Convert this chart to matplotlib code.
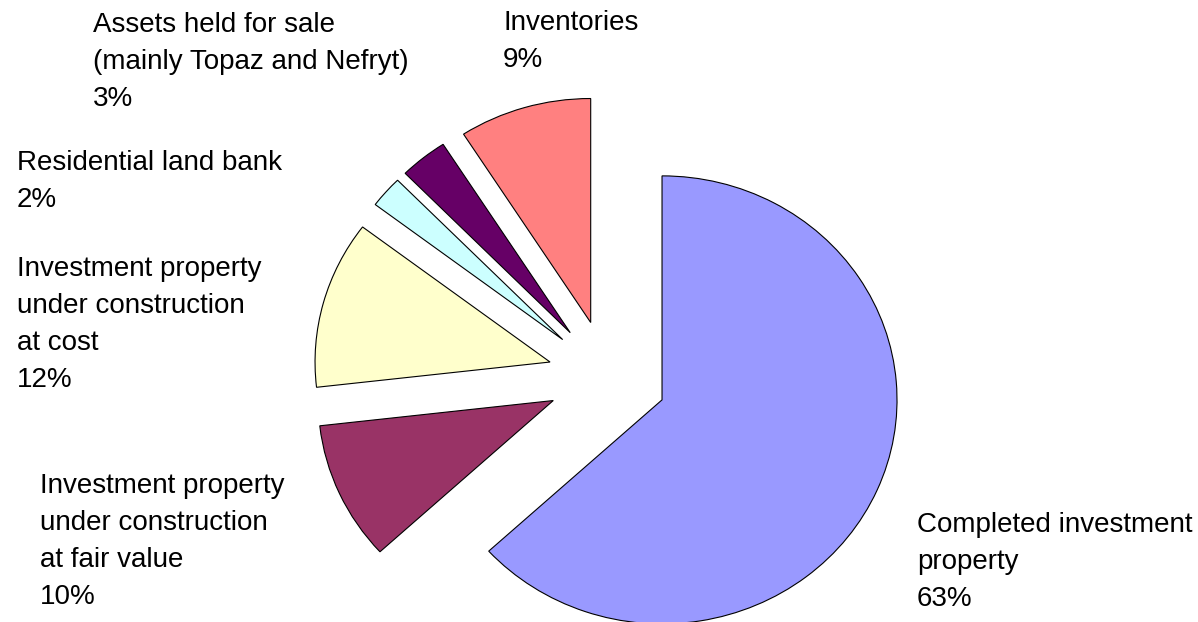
import matplotlib
matplotlib.use("Agg")
import matplotlib.pyplot as plt

# ---- data ----
categories = [
    "Completed investment\nproperty",
    "Investment property\nunder construction\nat fair value",
    "Investment property\nunder construction\nat cost",
    "Residential land bank",
    "Assets held for sale\n(mainly Topaz and Nefryt)",
    "Inventories",
]
values = [63.2, 10.0, 12.1, 2.3, 3.3, 9.1]
colors = ["#9999FF", "#993366", "#FFFFCC", "#CCFFFF", "#660066", "#FF8080"]

# label anchor positions (pixels from top-left: left x, cap-top y)
label_pos = [(917, 512), (40, 473), (17, 256), (17, 150), (93, 12), (503, 10)]

W, H = 1198, 622
fig = plt.figure(figsize=(W / 100, H / 100), dpi=100)
ax = fig.add_axes([0, 0, 1, 1])

ax.pie(values, colors=colors, startangle=90, counterclock=False,
       explode=[0.2535] * len(values), radius=1.0,
       wedgeprops=dict(edgecolor="black", linewidth=0.8))

# pixel geometry: center and radii (x,y)
cx, cy = 607.5, 377.0
rx, ry = 235.0, 224.0
ax.set_aspect("auto")
ax.set_xlim(-cx / rx, (W - cx) / rx)
ax.set_ylim(-(H - cy) / ry, cy / ry)
ax.axis("off")

for lab, v, (px, py) in zip(categories, values, label_pos):
    fig.text(px / W, 1 - py / H, f"{lab}\n{round(v)}%", ha="left", va="top",
             fontsize=20, family=["Liberation Sans", "DejaVu Sans"],
             linespacing=1.55, color="black")

fig.savefig("out.png", dpi=100)
